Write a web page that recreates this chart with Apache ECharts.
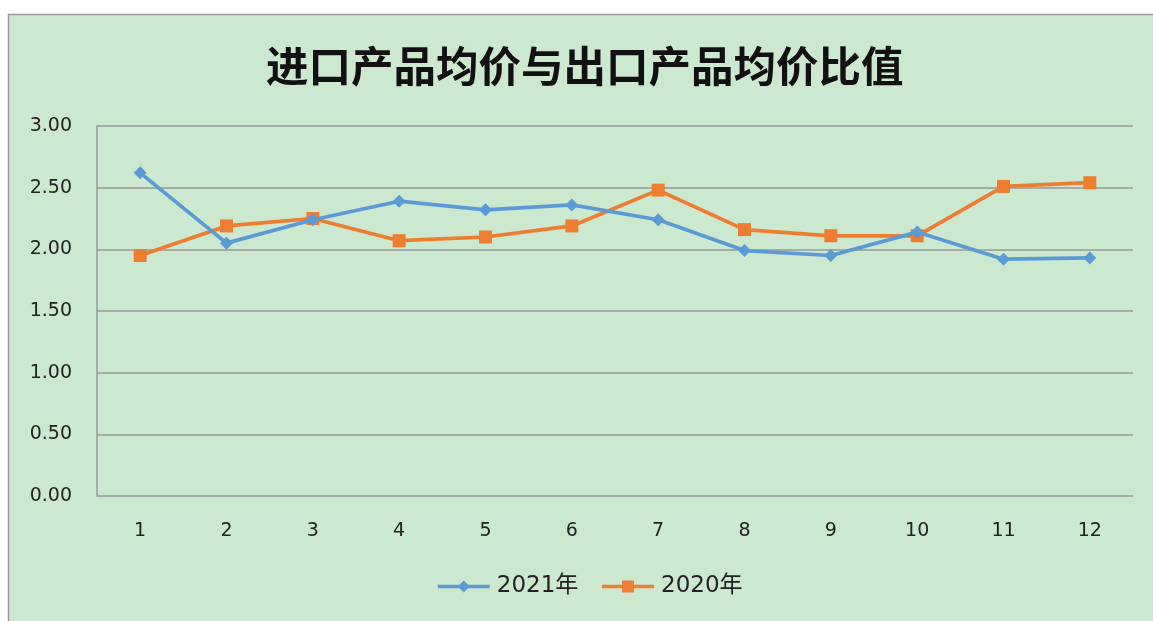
<!DOCTYPE html>
<html>
<head>
<meta charset="utf-8">
<script src="https://cdn.jsdelivr.net/npm/echarts@6/dist/echarts.min.js"></script>
<style>
html,body{margin:0;padding:0;background:#fff;}
#container{width:1153px;height:621px;}
</style>
</head>
<body>
<div id="container"></div>
<script>
// 月份
var months = ['1','2','3','4','5','6','7','8','9','10','11','12'];
// 2021年 比值
var data2021 = [2.62, 2.05, 2.24, 2.39, 2.32, 2.36, 2.24, 1.99, 1.95, 2.14, 1.92, 1.93];
// 2020年 比值
var data2020 = [1.95, 2.19, 2.25, 2.07, 2.10, 2.19, 2.48, 2.16, 2.11, 2.11, 2.51, 2.54];

var dom = document.getElementById("container");
var myChart = echarts.init(dom);
var option = {
    backgroundColor: '#fff',
    textStyle: { fontFamily: 'DejaVu Sans, Noto Sans CJK SC' },
    graphic: [{
        type: 'rect',
        z: -10,
        shape: { x: 8.5, y: 14.5, width: 1160, height: 620 },
        style: { fill: '#CCE8CF', stroke: '#9a9a9a', lineWidth: 1.5 }
    }],
    title: {
        text: '进口产品均价与出口产品均价比值',
        left: 261,
        top: 40,
        textStyle: {
            fontFamily: 'Noto Sans CJK SC',
            fontSize: 42.5,
            fontWeight: 'bold',
            color: '#111'
        }
    },
    legend: {
        bottom: 18,
        left: 431,
        itemWidth: 52,
        itemHeight: 15,
        itemGap: 22,
        lineStyle: { width: 3.5 },
        textStyle: { fontSize: 23, color: '#222', fontFamily: 'DejaVu Sans, Noto Sans CJK SC', padding: [0, 0, 0, 2] },
        data: ['2021年', '2020年']
    },
    grid: { left: 97, right: 20, top: 126, bottom: 125 },
    xAxis: {
        type: 'category',
        data: months,
        boundaryGap: true,
        axisLine: { show: false },
        axisTick: { show: false },
        axisLabel: { fontSize: 19, color: '#222', margin: 26 }
    },
    yAxis: {
        type: 'value',
        min: 0,
        max: 3,
        interval: 0.5,
        axisLine: { show: true, lineStyle: { color: '#9a9a9a', width: 1.5 } },
        axisTick: { show: false },
        axisLabel: {
            fontSize: 19, color: '#222', margin: 25,
            formatter: function (v) { return v.toFixed(2); }
        },
        splitLine: { lineStyle: { color: '#9a9a9a', width: 1.5 } }
    },
    series: [{
        name: '2021年',
        type: 'line',
        data: data2021,
        symbol: 'diamond',
        symbolSize: 13,
        color: '#5B9BD5',
        lineStyle: { width: 3.75 },
        z: 3
    }, {
        name: '2020年',
        type: 'line',
        data: data2020,
        symbol: 'rect',
        symbolSize: 13,
        color: '#ED7D31',
        lineStyle: { width: 3.75 },
        z: 2
    }]
};
myChart.setOption(option, true);
</script>
</body>
</html>
